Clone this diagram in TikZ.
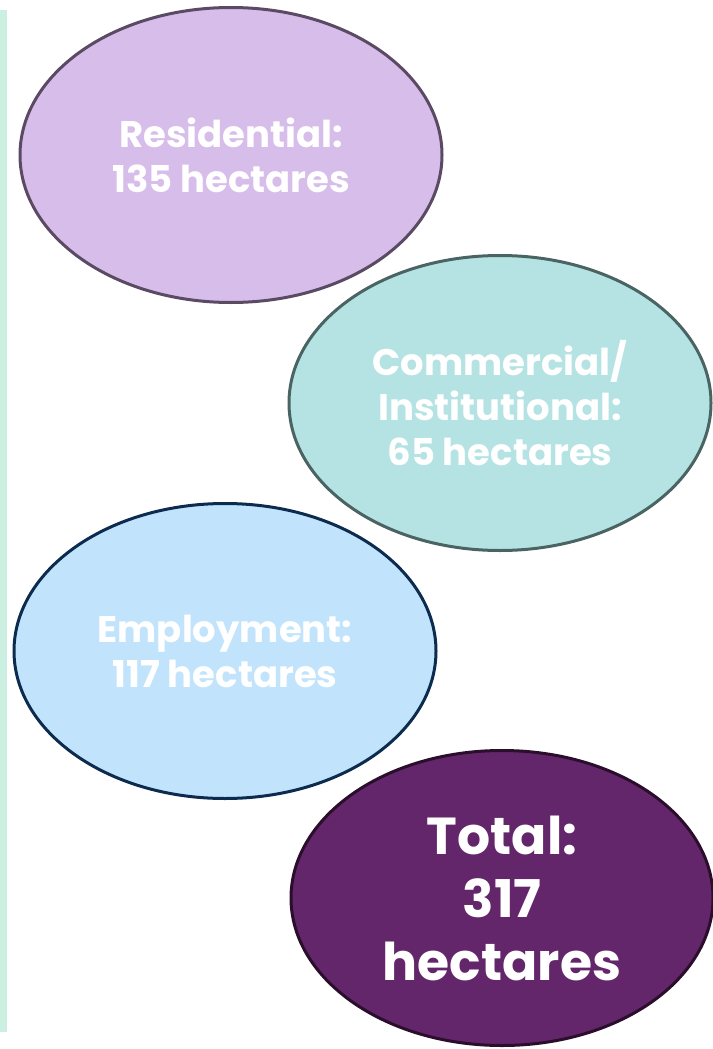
\documentclass[tikz,border=0pt]{standalone}
\usepackage{fontspec}
\setmainfont{Poppins}
\usetikzlibrary{shapes.geometric}

\definecolor{resfill}{HTML}{D7BDE9}
\definecolor{resline}{HTML}{5B4A64}
\definecolor{comfill}{HTML}{B5E3E3}
\definecolor{comline}{HTML}{4A6363}
\definecolor{empfill}{HTML}{C1E4FC}
\definecolor{empline}{HTML}{0D2B4F}
\definecolor{totfill}{HTML}{64266B}
\definecolor{totline}{HTML}{2A0E2C}
\definecolor{mapstrip}{HTML}{CBEFE0}

\begin{document}
\begin{tikzpicture}[x=1pt, y=-1pt, landuse/.style={ellipse, draw, line width=3pt, minimum width=422pt, minimum height=295pt, inner sep=0pt, text=white, align=center, font=\bfseries\fontsize{37}{45}\selectfont}]

\useasboundingbox (0,0) rectangle (712,1049);
\fill[mapstrip] (0,10) rectangle (7,1032);

\node[landuse, fill=resfill, draw=resline] (residential) at (231,155) {Residential:\\135 hectares};
\node[landuse, fill=comfill, draw=comline] (commercial) at (500,403) {Commercial/\\Institutional:\\65 hectares};
\node[landuse, fill=empfill, draw=empline] (employment) at (225,651) {Employment:\\117 hectares};
\node[landuse, fill=totfill, draw=totline, font=\bfseries\fontsize{52}{63}\selectfont] (total) at (502,898) {Total:\\317\\hectares};

\end{tikzpicture}
\end{document}
